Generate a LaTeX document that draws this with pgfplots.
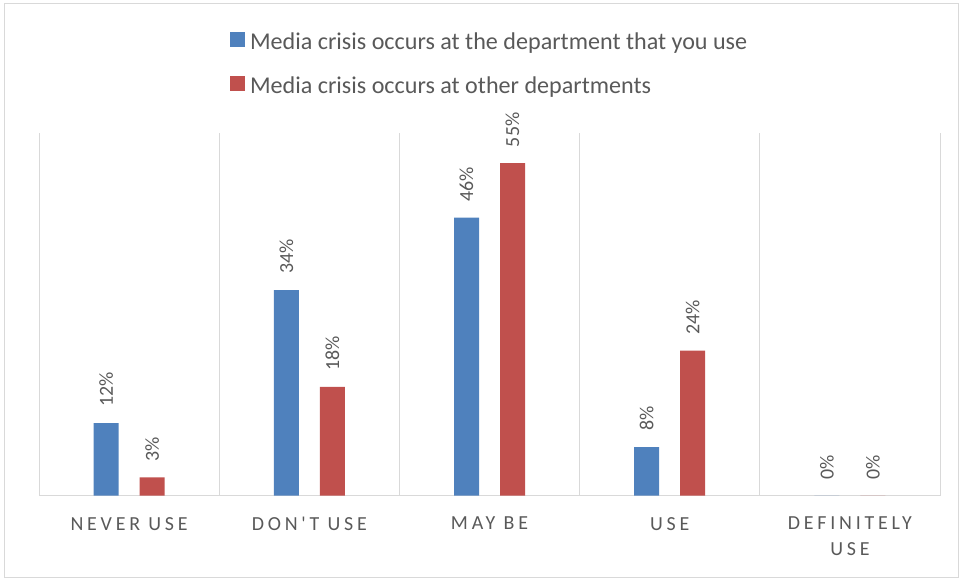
\documentclass[border=0pt]{standalone}
\usepackage{pgfplots}
\pgfplotsset{compat=1.18}
\usepackage{fontspec}
\setmainfont{Carlito}
\newfontfamily\tickfont[LetterSpace=19]{Carlito}
\definecolor{cblue}{HTML}{4F81BD}
\definecolor{cred}{HTML}{C0504D}
\definecolor{cgrid}{HTML}{D9D9D9}
\definecolor{ctext}{HTML}{595959}
\begin{document}
\begin{tikzpicture}
\useasboundingbox (0,0) rectangle (962bp,-579bp);
\draw[cgrid, line width=1bp] (4bp,-3bp) rectangle (958bp,-577.5bp);
\begin{axis}[
  at={(39bp,-495.5bp)}, anchor=south west,
  scale only axis, width=901bp, height=362.5bp,
  /pgf/number format/assume math mode=true,
  ybar=21bp, bar width=25bp,
  xmin=-0.5, xmax=4.5, ymin=0, ymax=60,
  axis x line=bottom, axis y line=none,
  axis line style={cgrid, line width=1bp, -},
  xtick={0,1,2,3,4},
  xticklabels={NEVER USE, DON'T USE, MAY BE, USE, {DEFINITELY\\USE}},
  xticklabel style={font=\tickfont\fontsize{20}{25.7}\selectfont, text=ctext, align=center, inner sep=0pt, anchor=north, yshift=-21.5bp},
  minor xtick={-0.5,0.5,1.5,2.5,3.5,4.5}, xminorgrids,
  minor grid style={cgrid, line width=1bp},
  major tick length=0pt, minor tick length=0pt,
  ytick=\empty,
  nodes near coords={\pgfmathprintnumber{\pgfplotspointmeta}\%},
  every node near coord/.append style={font=\fontsize{20}{24}\selectfont, text=ctext, rotate=90, anchor=west, inner ysep=0pt, inner xsep=16bp},
  legend style={at={(0.212,1.278)}, anchor=north west, draw=none, fill=none,
    inner sep=0pt, outer sep=0pt, font=\fontsize{24.2}{28}\selectfont, text=ctext,
    row sep=25bp, column sep=5bp, nodes={inner sep=0pt}},
  legend cell align=left,
]
\addplot[fill=cblue, draw=none, legend image code/.code={\fill[cblue] (0bp,-4.7bp) rectangle (15bp,10bp);}]
  coordinates {(0,12) (1,34) (2,46) (3,8) (4,0)};
\addlegendentry{Media crisis occurs at the department that you use}
\addplot[fill=cred, draw=none, legend image code/.code={\fill[cred] (0bp,-4.7bp) rectangle (15bp,10bp);}]
  coordinates {(0,3) (1,18) (2,55) (3,24) (4,0)};
\addlegendentry{Media crisis occurs at other departments}
\end{axis}
\end{tikzpicture}
\end{document}
